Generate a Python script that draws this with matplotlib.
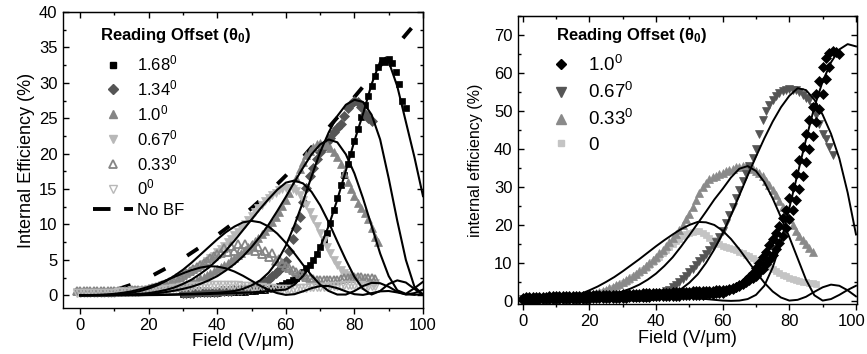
import numpy as np
import matplotlib.pyplot as plt
import matplotlib.transforms as mtransforms
from matplotlib.lines import Line2D
from matplotlib.ticker import MultipleLocator

plt.rcParams['font.family'] = ['Liberation Sans', 'DejaVu Sans']
plt.rcParams['mathtext.fontset'] = 'custom'
plt.rcParams['mathtext.rm'] = 'Liberation Sans'
plt.rcParams['mathtext.it'] = 'Liberation Sans:italic'
plt.rcParams['mathtext.bf'] = 'Liberation Sans:bold'

# ---------------- left panel: measured data (Internal Efficiency %) ----------------
d168_x = np.arange(30, 96)
d168_y = [0.2, 0.2, 0.25, 0.25, 0.3, 0.3, 0.3, 0.3, 0.35, 0.35, 0.35, 0.4, 0.4, 0.4, 0.45, 0.45, 0.5, 0.5, 0.5, 0.55,
          0.6, 0.65, 0.7, 0.75, 0.8, 0.9, 1.0, 1.1, 1.3, 1.5,
          1.7, 1.9, 2.2, 2.5, 2.9, 3.3, 3.8, 4.3, 5.0, 5.8,
          6.8, 7.8, 8.8, 10.2, 12.0, 13.8, 15.5, 17.0, 18.5, 20.0,
          21.8, 23.5, 25.2, 26.8, 28.2, 29.6, 31.0, 32.3, 33.2, 33.0,
          33.3, 32.8, 31.5, 29.8, 27.5, 26.5]
d134_x = np.arange(30, 86)
d134_y = [0.3, 0.3, 0.35, 0.35, 0.4, 0.4, 0.4, 0.45, 0.45, 0.5,
          0.5, 0.55, 0.6, 0.6, 0.65, 0.7, 0.75, 0.8, 0.9, 0.95,
          1.0, 1.2, 1.5, 1.7, 2.0, 2.3, 2.7, 3.1, 3.5, 4.0,
          4.8, 6.3, 8.0, 9.5, 11.0, 13.2, 15.2, 16.8, 18.0, 19.3,
          20.3, 21.0, 21.6, 22.2, 23.0, 23.6, 24.2, 25.3, 26.4, 27.0,
          27.5, 27.3, 26.6, 25.6, 25.0, 24.6]
d100_x = np.arange(-1, 88)
d100_y = [0.6, 0.6, 0.5, 0.6, 0.5, 0.6, 0.5, 0.6, 0.5, 0.6,
          0.5, 0.6, 0.6, 0.6, 0.6, 0.7, 0.7, 0.7, 0.7, 0.8,
          0.8, 0.8, 0.8, 0.9, 0.9, 1.0, 1.0, 1.1, 1.1, 1.2,
          1.3, 1.5, 1.6, 1.8, 2.0, 2.2, 2.4, 2.6, 2.8, 3.1,
          3.4, 3.7, 4.0, 4.3, 4.6, 5.0, 5.3, 5.7, 6.0, 6.4,
          6.8, 7.2, 7.6, 8.1, 8.6, 9.1, 9.7, 10.3, 11.0, 11.8,
          12.6, 13.5, 14.5, 15.5, 16.6, 17.8, 18.8, 19.8, 20.4, 21.0,
          21.3, 21.5, 21.4, 21.2, 20.8, 20.3, 19.5, 18.5, 17.3, 16.0,
          15.0, 14.0, 13.0, 12.3, 11.6, 10.8, 9.5, 8.2, 7.5]
d067_x = np.arange(-1, 87)
d067_y = [0.4, 0.4, 0.5, 0.4, 0.5, 0.4, 0.5, 0.5, 0.5, 0.5,
          0.5, 0.5, 0.6, 0.6, 0.6, 0.6, 0.7, 0.7, 0.7, 0.8,
          0.8, 0.9, 1.0, 1.1, 1.2, 1.4, 1.5, 1.7, 1.9, 2.1,
          2.3, 2.5, 2.8, 3.1, 3.4, 3.7, 4.0, 4.4, 4.8, 5.2,
          5.6, 6.1, 6.5, 7.0, 7.5, 8.0, 8.5, 9.0, 9.5, 10.0,
          10.6, 11.2, 11.8, 12.3, 12.8, 13.3, 13.7, 14.1, 14.5, 14.8,
          15.0, 15.2, 15.2, 15.0, 14.7, 14.2, 13.5, 12.7, 11.8, 10.8,
          9.8, 8.8, 7.8, 6.8, 5.9, 5.0, 4.3, 3.6, 3.2, 2.8,
          2.5, 2.3, 2.2, 2.0, 1.9, 1.8, 1.7, 1.7]
d033_x = np.arange(-1, 87)
d033_y = [0.6, 0.6, 0.6, 0.6, 0.6, 0.6, 0.6, 0.6, 0.6, 0.6,
          0.6, 0.6, 0.6, 0.6, 0.6, 0.6, 0.7, 0.7, 0.7, 0.8,
          0.8, 0.9, 1.0, 1.1, 1.2, 1.4, 1.6, 1.9, 2.1, 2.4,
          2.6, 2.9, 3.1, 3.4, 3.7, 4.0, 4.3, 4.6, 4.9, 5.2,
          5.5, 5.8, 6.0, 6.7, 6.1, 7.0, 6.3, 7.2, 6.5, 7.2,
          6.6, 7.0, 6.2, 6.8, 5.8, 6.3, 5.4, 5.9, 4.9, 5.1,
          4.5, 4.2, 3.9, 3.6, 3.3, 3.0, 2.8, 2.6, 2.4, 2.3,
          2.2, 2.1, 2.1, 2.1, 2.1, 2.2, 2.2, 2.3, 2.4, 2.5,
          2.5, 2.6, 2.6, 2.6, 2.5, 2.5, 2.4, 2.3]
d000_x = np.arange(-1, 87)
d000_y = [0.3, 0.3, 0.3, 0.3, 0.3, 0.3, 0.3, 0.3, 0.3, 0.3,
          0.3, 0.3, 0.4, 0.4, 0.4, 0.4, 0.5, 0.5, 0.5, 0.6,
          0.6, 0.6, 0.7, 0.7, 0.8, 0.8, 0.9, 0.9, 1.0, 1.0,
          1.1, 1.1, 1.2, 1.2, 1.3, 1.3, 1.3, 1.4, 1.4, 1.4,
          1.5, 1.5, 1.5, 1.5, 1.5, 1.4, 1.4, 1.4, 1.3, 1.3,
          1.3, 1.2, 1.2, 1.1, 1.1, 1.0, 1.0, 1.0, 0.9, 0.9,
          0.9, 0.9, 0.9, 0.9, 0.9, 1.0, 1.0, 1.0, 1.1, 1.1,
          1.1, 1.2, 1.2, 1.2, 1.3, 1.3, 1.3, 1.3, 1.4, 1.4,
          1.4, 1.4, 1.4, 1.4, 1.3, 1.3, 1.3, 1.3]

# left panel: fitted curves (x every 2.5 V/um)
fit_x = np.arange(0, 100.1, 2.5)
fit_000 = [0, 0.02, 0.05, 0.1, 0.2, 0.35, 0.55, 0.85, 1.2, 1.6, 2.1, 2.6, 3.1, 3.55, 3.9, 4.1, 4.05, 3.8, 3.35, 2.75,
           2.05, 1.35, 0.75, 0.3, 0.05, 0.15, 0.55, 1.0, 1.3, 1.3, 1.0, 0.55, 0.15, 0.05, 0.3, 0.55, 0.6, 0.4, 0.15, 0.05, 0.2]
fit_033 = [0, 0, 0.02, 0.05, 0.1, 0.2, 0.35, 0.6, 0.95, 1.4, 2.0, 2.75, 3.6, 4.6, 5.7, 6.8, 7.9, 8.9, 9.7, 10.3,
           10.5, 10.3, 9.7, 8.7, 7.4, 5.9, 4.3, 2.8, 1.5, 0.6, 0.1, 0.1, 0.6, 1.3, 1.75, 1.7, 1.2, 0.5, 0.1, 0.3, 0.8]
fit_067 = [0, 0, 0, 0.02, 0.04, 0.07, 0.12, 0.2, 0.3, 0.5, 0.75, 1.1, 1.6, 2.2, 3.0, 3.9, 5.0, 6.3, 7.7, 9.2,
           10.7, 12.2, 13.6, 14.9, 15.9, 16.2, 15.8, 14.6, 12.7, 10.3, 7.6, 5.0, 2.6, 0.9, 0.1, 0.6, 1.6, 2.1, 1.8, 0.9, 0.1]
fit_100 = [0, 0, 0, 0, 0.02, 0.04, 0.07, 0.12, 0.2, 0.3, 0.45, 0.65, 0.9, 1.2, 1.6, 2.1, 2.7, 3.5, 4.4, 5.5,
           6.8, 8.3, 10.0, 11.9, 13.9, 16.0, 18.0, 19.9, 21.3, 22.0, 21.6, 19.9, 17.2, 13.7, 9.8, 5.9, 2.7, 0.7, 0.2, 1.0, 1.9]
fit_134 = [0, 0, 0, 0, 0, 0, 0.02, 0.03, 0.05, 0.07, 0.1, 0.13, 0.16, 0.2, 0.25, 0.3,
           0.35, 0.45, 0.6, 0.9, 1.4, 2.1, 3.2, 4.8, 7.0, 9.9, 13.2, 16.8, 20.2, 23.0, 25.3, 26.9, 27.6, 27.3,
           25.5, 22.0, 16.5, 10.5, 5.0, 1.2, 0.1]
fit_168 = [0, 0, 0, 0, 0, 0, 0, 0, 0.02, 0.03, 0.05, 0.07, 0.1, 0.12, 0.15, 0.18, 0.22, 0.26, 0.3, 0.35,
           0.4, 0.5, 0.6, 0.7, 0.8, 1.5, 2.7, 4.4, 6.8, 9.8, 13.5, 17.6, 21.8, 25.6, 29.8, 33.0, 33.0, 29.5,
           24.5, 19.5, 14.0]
# no beam fanning envelope
nobf_x = [0, 5, 10, 15, 20, 25, 30, 35, 40, 45, 50, 55, 60, 65, 70, 75, 80, 85, 90, 95, 98]
nobf_y = [0, 0.2, 0.7, 1.5, 2.5, 3.8, 5.2, 6.8, 8.5, 10.3, 12.3, 14.5, 16.9, 19.5, 22.3, 25.1, 28.0, 30.9, 33.9,
          36.8, 38.5]

# ---------------- right panel: measured data (internal efficiency %) ----------------
r100_x = np.arange(0, 96)
r100_y = [0.3, 0.3, 0.3, 0.3, 0.3, 0.4, 0.4, 0.4, 0.4, 0.4,
          0.4, 0.5, 0.5, 0.5, 0.5, 0.5, 0.6, 0.6, 0.6, 0.6,
          0.6, 0.7, 0.7, 0.7, 0.7, 0.8, 0.8, 0.8, 0.8, 0.9,
          0.9, 0.9, 1.0, 1.0, 1.0, 1.0, 1.1, 1.1, 1.1, 1.2,
          1.2, 1.2, 1.3, 1.3, 1.3, 1.4, 1.4, 1.4, 1.5, 1.5,
          1.5, 1.6, 1.6, 1.7, 1.7, 1.8, 1.8, 1.9, 2.0, 2.1,
          2.2, 2.5, 2.8, 3.2, 3.6, 4.1, 4.8, 5.5, 6.3, 7.3,
          8.6, 10.0, 11.5, 13.0, 14.6, 16.2, 18.0, 19.8, 21.8, 24.0,
          27.0, 30.0, 33.5, 37.0, 40.5, 44.0, 47.5, 51.0, 54.5, 58.0,
          61.5, 64.0, 65.3, 65.8, 65.5, 65.0]
# second sweep of the 1.0 deg data (slightly lagging)
r100b_x = np.arange(0, 93)
r100b_y = [0.9, 1.0, 1.0, 1.0, 1.1, 1.1, 1.1, 1.1, 1.2, 1.2,
           1.2, 1.2, 1.3, 1.3, 1.3, 1.3, 1.4, 1.4, 1.4, 1.4,
           1.5, 1.5, 1.5, 1.6, 1.6, 1.6, 1.6, 1.7, 1.7, 1.7,
           1.8, 1.8, 1.8, 1.9, 1.9, 1.9, 2.0, 2.0, 2.0, 2.1,
           2.1, 2.1, 2.2, 2.2, 2.2, 2.3, 2.3, 2.3, 2.4, 2.4,
           2.4, 2.5, 2.5, 2.5, 2.6, 2.6, 2.7, 2.7, 2.8, 2.8,
           2.9, 3.0, 3.2, 3.4, 3.7, 4.0, 4.4, 4.9, 5.4, 6.0,
           6.7, 7.5, 8.5, 9.6, 10.8, 12.1, 13.6, 15.3, 17.2, 19.3,
           21.6, 24.0, 26.6, 29.5, 33.0, 36.5, 40.0, 43.5, 47.0, 50.5,
           54.5, 58.5, 61.5]
r067_x = np.arange(0, 94)
r067_y = [0.5, 0.5, 0.5, 0.5, 0.5, 0.5, 0.5, 0.5, 0.5, 0.5,
          0.5, 0.5, 0.5, 0.6, 0.6, 0.6, 0.6, 0.6, 0.7, 0.7,
          0.7, 0.7, 0.7, 0.8, 0.8, 0.8, 0.8, 0.9, 0.9, 0.9,
          1.0, 1.0, 1.0, 1.1, 1.1, 1.2, 1.2, 1.3, 1.4, 1.5,
          1.5, 1.8, 2.2, 2.6, 3.0, 3.6, 4.2, 5.0, 5.8, 6.7,
          7.6, 8.5, 9.4, 10.4, 11.4, 12.4, 13.4, 14.4, 15.4, 16.8,
          18.5, 20.5, 22.5, 24.7, 27.0, 29.2, 31.5, 33.5, 35.5, 37.5,
          40.0, 44.0, 47.5, 50.0, 51.5, 53.0, 54.0, 54.8, 55.3, 55.5,
          55.7, 55.6, 55.4, 55.0, 54.2, 53.5, 53.0, 51.0, 49.0, 46.5,
          44.0, 42.5, 40.5, 38.5]
r033_x = np.arange(0, 88)
r033_y = [0.6, 0.6, 0.6, 0.6, 0.6, 0.6, 0.6, 0.6, 0.6, 0.6,
          0.7, 0.7, 0.7, 0.8, 0.8, 0.9, 1.0, 1.1, 1.2, 1.3,
          1.5, 1.7, 2.0, 2.3, 2.6, 2.9, 3.3, 3.7, 4.1, 4.5,
          5.0, 5.5, 6.0, 6.6, 7.2, 7.8, 8.5, 9.2, 10.0, 10.8,
          11.6, 12.5, 13.4, 14.4, 15.4, 16.5, 17.6, 18.8, 20.0, 21.5,
          23.0, 24.7, 26.5, 28.3, 30.0, 31.0, 32.0, 32.5, 33.0, 33.4,
          33.8, 34.1, 34.5, 34.8, 35.2, 35.3, 35.5, 35.5, 35.3, 34.8,
          34.3, 33.6, 32.8, 31.7, 30.5, 29.2, 27.8, 26.3, 24.8, 23.2,
          21.5, 20.0, 18.5, 17.2, 16.0, 15.0, 14.0, 13.0]
r000_x = np.arange(0, 89)
r000_y = [0.8, 0.8, 0.8, 0.8, 0.8, 0.8, 0.8, 0.8, 0.8, 0.8,
          0.8, 0.8, 0.8, 0.9, 0.9, 1.0, 1.0, 1.1, 1.2, 1.3,
          1.4, 1.6, 1.8, 2.1, 2.4, 2.7, 3.0, 3.4, 3.8, 4.2,
          4.6, 5.1, 5.6, 6.2, 6.8, 7.4, 8.1, 8.8, 9.5, 10.2,
          11.0, 11.7, 12.5, 13.3, 14.1, 14.9, 15.7, 16.4, 17.0, 17.5,
          17.9, 18.2, 18.4, 18.3, 17.8, 17.3, 16.6, 16.0, 15.4, 14.9,
          14.5, 14.2, 13.9, 13.6, 13.3, 12.9, 12.5, 12.2, 11.8, 11.4,
          10.9, 10.4, 9.9, 9.4, 8.9, 8.4, 7.9, 7.4, 6.9, 6.5,
          6.1, 5.8, 5.5, 5.3, 5.1, 4.9, 4.8, 4.6, 4.5]

# right panel: fitted curves
rfit_x = np.arange(0, 100.1, 2.5)
rfit_0 = [0, 0, 0.05, 0.15, 0.35, 0.7, 1.2, 1.9, 2.8, 3.8, 5.0, 6.3, 7.8, 9.4, 11.0, 12.7, 14.4, 16.0, 17.5, 18.9,
          20.0, 20.8, 20.7, 20.0, 18.5, 16.3, 13.6, 10.6, 7.6, 4.8, 2.5, 0.9, 0.1, 0.3, 1.1, 2.4, 3.6, 4.3, 4.0, 2.8, 1.2]
rfit_033 = [0, 0, 0, 0, 0.02, 0.05, 0.1, 0.3, 0.5, 0.9, 1.3, 1.8, 2.5, 3.3, 4.3, 5.6, 7.2, 9.2, 11.5, 14.3,
            17.3, 20.4, 23.5, 26.7, 29.5, 32.5, 34.8, 35.5, 34.2, 31.3, 27.0, 22.0, 16.8, 11.2, 5.6, 1.5, 0.1, 0.5,
            1.6, 2.9, 4.0]
rfit_067 = [0, 0, 0, 0, 0, 0, 0, 0.02, 0.05, 0.1, 0.15, 0.2, 0.2, 0.15, 0.08, 0.1,
            0.4, 1.0, 1.9, 3.1, 4.8, 7.0, 10.0, 13.6, 17.8, 22.6, 27.8, 33.0, 38.0, 42.8, 47.2, 51.0, 54.0, 56.0,
            55.5, 53.0, 49.0, 44.0, 37.5, 28.5, 17.5]
rfit_100 = [0, 0, 0, 0, 0, 0, 0, 0, 0, 0, 0.02, 0.05,
            0.1, 0.2, 0.3, 0.45, 0.6, 0.75, 0.85, 0.9, 0.85, 0.7, 0.5, 0.3, 0.1, 0.02, 0.1, 0.5, 1.6, 4.0,
            8.8, 15.5, 24.5, 33.5, 42.5, 51.0, 57.8, 62.8, 66.2, 67.6, 67.0]

left_labels = ['1.68$^0$', '1.34$^0$', '1.0$^0$', '0.67$^0$', '0.33$^0$', '0$^0$', 'No BF']
right_labels = ['1.0$^0$', '0.67$^0$', '0.33$^0$', '0']
title_txt = 'Reading Offset (\u03b8$_\\mathbf{0}$)'

fig = plt.figure(figsize=(8.67, 3.54), dpi=100)
ax1 = fig.add_axes([63 / 867, 1 - 308 / 354, 360 / 867, 296 / 354])
ax2 = fig.add_axes([518 / 867, 1 - 304 / 354, 339 / 867, 288 / 354])

# ---- left ----
ms = dict(ls='none', zorder=2)
ax1.plot(nobf_x, nobf_y, color='black', lw=2.8, ls=(0, (3.4, 6.5)), zorder=1.5)
ax1.plot(d168_x, d168_y, marker='s', ms=4.6, mfc='black', mec='black', mew=0.5, **ms)
ax1.plot(d134_x, d134_y, marker='D', ms=5.0, mfc='#555555', mec='#555555', mew=0.5, **ms)
ax1.plot(d100_x, d100_y, marker='^', ms=6.0, mfc='#858585', mec='#858585', mew=0.5, **ms)
ax1.plot(d067_x, d067_y, marker='v', ms=6.0, mfc='#b8b8b8', mec='#b8b8b8', mew=0.5, **ms)
ax1.plot(d033_x, d033_y, marker='^', ms=6.0, mfc='none', mec='#858585', mew=1.3, **ms)
ax1.plot(d000_x, d000_y, marker='v', ms=5.5, mfc='none', mec='#b8b8b8', mew=1.0, **ms)
for fy in [fit_000, fit_033, fit_067, fit_100, fit_134, fit_168]:
    ax1.plot(fit_x, fy, color='black', lw=1.5, zorder=3)

ax1.set_xlim(-5, 100)
ax1.set_ylim(-1.8, 40)
ax1.set_xlabel('Field (V/\u03bcm)', fontsize=13.5, labelpad=0)
ax1.set_ylabel('Internal Efficiency (%)', fontsize=13, labelpad=3)

h1 = [Line2D([], [], ls='none', marker='s', ms=4.6, color='black'),
      Line2D([], [], ls='none', marker='D', ms=5.0, color='#555555'),
      Line2D([], [], ls='none', marker='^', ms=6.0, color='#858585'),
      Line2D([], [], ls='none', marker='v', ms=6.0, color='#b8b8b8'),
      Line2D([], [], ls='none', marker='^', ms=6.0, mfc='none', mec='#858585', mew=1.3),
      Line2D([], [], ls='none', marker='v', ms=5.5, mfc='none', mec='#b8b8b8', mew=1.0),
      Line2D([], [], color='black', lw=2.8, ls=(0, (4.5, 3.5)))]
ax1.text(0.103, 0.922, title_txt, transform=ax1.transAxes, fontsize=12, fontweight='bold', va='center', ha='left')
ax1.legend(h1, left_labels, loc='upper left', bbox_to_anchor=(0.083, 0.86), frameon=False, fontsize=12,
           handlelength=2.4, handletextpad=0.25, labelspacing=0.3, borderpad=0, borderaxespad=0)

# ---- right ----
ax2.plot(r000_x, r000_y, marker='s', ms=4.6, mfc='#c4c4c4', mec='#c4c4c4', mew=0.5, **ms)
ax2.plot(r033_x, r033_y, marker='^', ms=6.0, mfc='#8a8a8a', mec='#8a8a8a', mew=0.5, **ms)
ax2.plot(r067_x, r067_y, marker='v', ms=6.0, mfc='#555555', mec='#555555', mew=0.5, **ms)
ax2.plot(r100b_x, r100b_y, marker='D', ms=5.0, mfc='black', mec='black', mew=0.5, **ms)
ax2.plot(r100_x, r100_y, marker='D', ms=5.0, mfc='black', mec='black', mew=0.5, **ms)
for fy in [rfit_0, rfit_033, rfit_067, rfit_100]:
    ax2.plot(rfit_x, fy, color='black', lw=1.4, zorder=3)

ax2.set_xlim(-1.4, 100.3)
ax2.set_ylim(-0.8, 75)
ax2.set_xlabel('Field (V/\u03bcm)', fontsize=13, labelpad=1)
ax2.set_ylabel('internal efficiency (%)', fontsize=11.5, labelpad=8)

h2 = [Line2D([], [], ls='none', marker='D', ms=5.5, color='black'),
      Line2D([], [], ls='none', marker='v', ms=6.5, color='#555555'),
      Line2D([], [], ls='none', marker='^', ms=6.5, color='#8a8a8a'),
      Line2D([], [], ls='none', marker='s', ms=5.0, color='#c4c4c4')]
ax2.text(0.112, 0.931, title_txt, transform=ax2.transAxes, fontsize=12, fontweight='bold', va='center', ha='left')
ax2.legend(h2, right_labels, loc='upper left', bbox_to_anchor=(0.1, 0.865), frameon=False, fontsize=13.5,
           handlelength=1.0, handletextpad=0.95, labelspacing=0.38, borderpad=0, borderaxespad=0)

# ---- axes styling (Origin-like) ----
for ax, ymaj, ymin in [(ax1, 5, 2.5), (ax2, 10, 5)]:
    for s in ax.spines.values():
        s.set_linewidth(1.0)
    ax.set_xticks([0, 20, 40, 60, 80, 100])
    ax.xaxis.set_minor_locator(MultipleLocator(10))
    ax.yaxis.set_major_locator(MultipleLocator(ymaj))
    ax.yaxis.set_minor_locator(MultipleLocator(ymin))
    ax.tick_params(axis='x', which='both', direction='out', labelsize=12, width=1.0, pad=3)
    ax.tick_params(axis='x', which='major', length=4)
    ax.tick_params(axis='x', which='minor', length=2.5)
    ax.tick_params(axis='y', which='both', direction='in', labelsize=12, width=1.0, pad=4)
    ax.tick_params(axis='y', which='major', length=4)
    ax.tick_params(axis='y', which='minor', length=2.5)
    top = ax.secondary_xaxis('top')
    top.xaxis.set_major_locator(MultipleLocator(20))
    top.xaxis.set_minor_locator(MultipleLocator(10))
    top.tick_params(axis='x', which='both', direction='in', labeltop=False, width=1.0)
    top.tick_params(axis='x', which='major', length=4)
    top.tick_params(axis='x', which='minor', length=2.5)
    right = ax.secondary_yaxis('right')
    right.yaxis.set_major_locator(MultipleLocator(ymaj))
    right.yaxis.set_minor_locator(MultipleLocator(ymin))
    right.tick_params(axis='y', which='both', direction='in', labelright=False, width=1.0)
    right.tick_params(axis='y', which='major', length=4)
    right.tick_params(axis='y', which='minor', length=2.5)

# nudge the last "100" label of the right panel so it stays inside the figure
last = ax2.get_xticklabels()[-1]
last.set_transform(last.get_transform() + mtransforms.ScaledTranslation(-4 / 100, 0, fig.dpi_scale_trans))

fig.savefig('out.png', dpi=100)
